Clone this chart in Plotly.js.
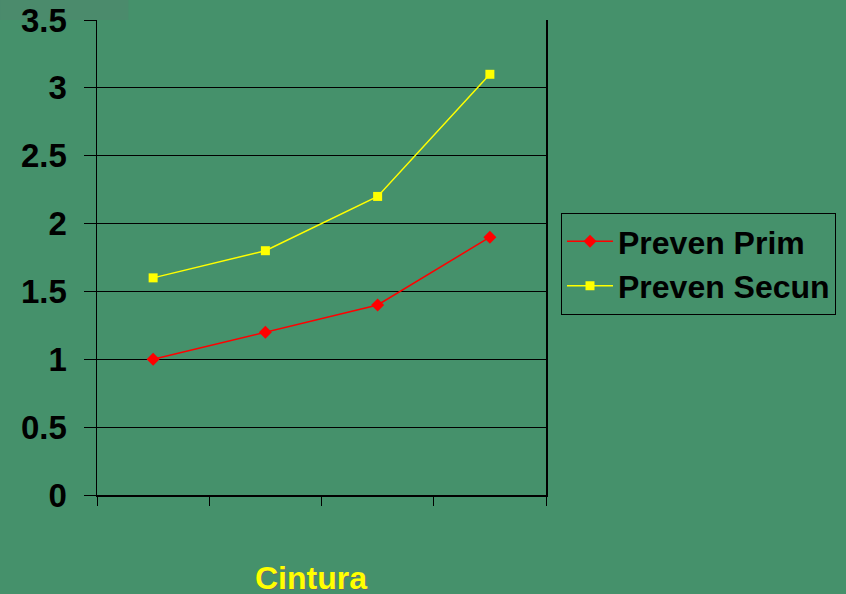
<!DOCTYPE html>
<html>
<head>
<meta charset="utf-8">
<script src="https://cdn.plot.ly/plotly-3.0.1.min.js"></script>
<style>
  html, body { margin: 0; padding: 0; background: #45916B; }
  #chart { width: 846px; height: 594px; }
</style>
</head>
<body>
<div id="chart"></div>
<script>
const categories = [0, 1, 2, 3];
const prevenPrim = [1.0, 1.2, 1.4, 1.9];
const prevenSecun = [1.6, 1.8, 2.2, 3.1];
const yTicks = [0, 0.5, 1, 1.5, 2, 2.5, 3, 3.5];
const yTickText = ['0', '0.5', '1', '1.5', '2', '2.5', '3', '3.5'];
const xBoundaries = [-0.5, 0.5, 1.5, 2.5, 3.5];
const xTickText = ['', '', '', '', ''];
const xTitle = 'Cintura';

const fontFam = '"Liberation Sans", Arial, sans-serif';

const traces = [
  {
    x: categories, y: prevenPrim, name: 'Preven Prim',
    type: 'scatter', mode: 'lines+markers',
    line: { color: '#FF0000', width: 1.5 },
    marker: { symbol: 'diamond', size: 10, color: '#FF0000' }
  },
  {
    x: categories, y: prevenSecun, name: 'Preven Secun',
    type: 'scatter', mode: 'lines+markers',
    line: { color: '#FFFF00', width: 1.5 },
    marker: { symbol: 'square', size: 9, color: '#FFFF00' }
  }
];

const layout = {
  width: 846, height: 594,
  paper_bgcolor: '#45916B',
  plot_bgcolor: 'rgba(0,0,0,0)',
  margin: { l: 97, r: 300, t: 20, b: 99, pad: 0, autoexpand: false },
  showlegend: true,
  font: { family: fontFam, color: '#000000' },
  xaxis: {
    range: [-0.5, 3.5], automargin: false,
    tickmode: 'array', tickvals: xBoundaries, ticktext: xTickText,
    ticks: 'outside', ticklen: 9, tickwidth: 1, tickcolor: '#000',
    showline: true, linecolor: '#000', linewidth: 1.5,
    showgrid: false, zeroline: false, fixedrange: true
  },
  yaxis: {
    range: [0, 3.5], automargin: false,
    tickmode: 'array', tickvals: yTicks, ticktext: yTickText,
    ticks: 'outside', ticklen: 12, tickwidth: 1, tickcolor: '#000',
    ticklabelstandoff: 10,
    tickfont: { family: fontFam, size: 33, color: '#000', weight: 'bold' },
    showline: true, linecolor: '#000', linewidth: 1.5, mirror: true,
    showgrid: true, gridcolor: '#000', gridwidth: 1.2,
    zeroline: false, fixedrange: true
  },
  legend: {
    x: 1.0334, xanchor: 'left', y: 0.594, yanchor: 'top',
    bgcolor: 'rgba(0,0,0,0)', bordercolor: '#000', borderwidth: 1,
    font: { family: fontFam, size: 32, color: '#000', weight: 'bold' },
    itemwidth: 46, tracegroupgap: 0
  },
  annotations: [
    {
      text: xTitle, xref: 'paper', yref: 'paper',
      x: 0.4777, y: -0.175, xanchor: 'center', yanchor: 'middle',
      showarrow: false,
      font: { family: fontFam, size: 32, color: '#FFFF00', weight: 'bold', shadow: '1px 1px 0px #6b6b6b' }
    }
  ],
  shapes: [
    { type: 'rect', xref: 'paper', yref: 'paper', layer: 'below',
      x0: -0.216, x1: 0.07, y0: 1.0, y1: 1.042,
      fillcolor: '#4B8B6C', line: { width: 0 } }
  ]
};

Plotly.newPlot('chart', traces, layout, { staticPlot: true, displayModeBar: false });
</script>
</body>
</html>
